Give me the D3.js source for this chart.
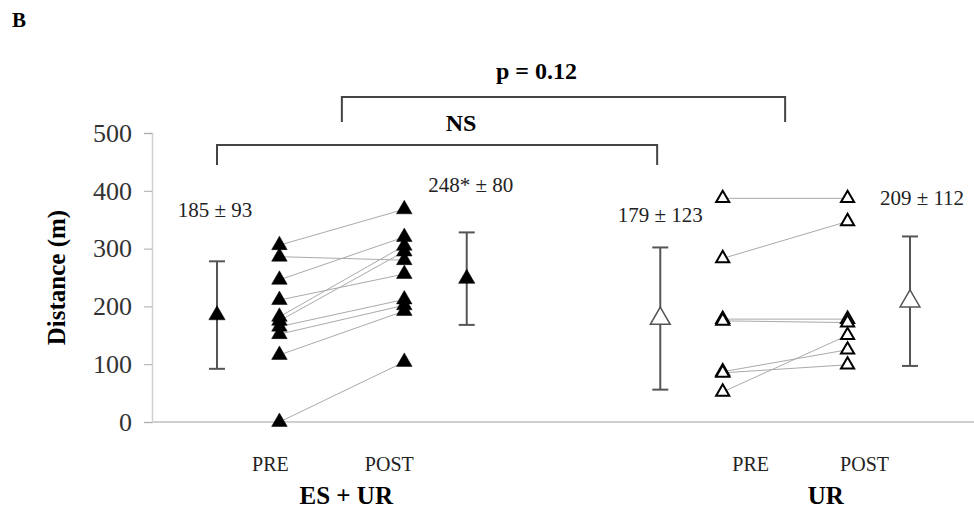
<!DOCTYPE html>
<html>
<head>
<meta charset="utf-8">
<script src="https://cdn.jsdelivr.net/npm/d3@7"></script>
<style>
  body { margin: 0; background: #fff; }
  svg text { font-family: "Liberation Serif", "Times New Roman", serif; }
</style>
</head>
<body>
<div id="chart"></div>
<script>
// individual subjects, distance (m) before and after
var esPre  = [306, 286, 246, 211, 182, 175, 165, 152, 116, 0];
var esPost = [368, 280, 320, 256, 305, 295, 212, 202, 192, 104];
var urPre  = [387, 283, 178, 175, 87, 85, 52];
var urPost = [387, 347, 178, 172, 125, 99, 150];

// group summaries: mean and sd
var summaryLabels = ["185 ± 93", "248* ± 80", "179 ± 123", "209 ± 112"];
var summaryMeans  = [185, 248, 179, 209];
var summarySd     = [93, 80, 123, 112];

var yTicks = [0, 100, 200, 300, 400, 500];
var phaseLabels = ["PRE", "POST", "PRE", "POST"];
var groupLabels = ["ES + UR", "UR"];

var width = 974, height = 510;
var svg = d3.select("#chart").append("svg")
  .attr("width", width)
  .attr("height", height);

// slot positions along the x axis
var x = d3.scaleLinear().domain([0, 11.1]).range([217, 910]);
var y = d3.scaleLinear().domain([0, 500]).range([422, 133]);

var slots = { esMeanPre: 0, esPre: 1, esPost: 3, esMeanPost: 4,
              urMeanPre: 7.1, urPre: 8.1, urPost: 10.1, urMeanPost: 11.1 };

// panel letter
svg.append("text").attr("x", 12).attr("y", 27)
  .attr("font-size", 21).attr("font-weight", "bold").text("B");

// axes
svg.append("line").attr("x1", 152).attr("x2", 974)
  .attr("y1", y(0)).attr("y2", y(0))
  .attr("stroke", "#cfcfcf").attr("stroke-width", 2);

var yAxis = svg.append("g")
  .attr("transform", "translate(152,0)")
  .call(d3.axisLeft(y).tickValues(yTicks).tickSize(8).tickPadding(12));
yAxis.select(".domain").attr("stroke", "#d0d0d0").attr("stroke-width", 1.5);
yAxis.selectAll(".tick line").attr("stroke", "#aaa");
yAxis.selectAll(".tick text")
  .style("font-family", "'Liberation Serif', serif")
  .attr("font-size", 26).attr("fill", "#333");

svg.append("text")
  .attr("transform", "translate(56," + y(250) + ") rotate(-90)")
  .attr("text-anchor", "middle")
  .attr("dy", "0.35em")
  .attr("font-size", 25).attr("font-weight", "bold")
  .text("Distance (m)");

// paired lines
function pairs(pre, post, a, b) {
  svg.append("g").selectAll("line")
    .data(pre).enter().append("line")
      .attr("x1", x(a)).attr("x2", x(b))
      .attr("y1", function(d) { return y(d); })
      .attr("y2", function(d, i) { return y(post[i]); })
      .attr("stroke", "#aaa").attr("stroke-width", 1);
}
pairs(esPre, esPost, slots.esPre, slots.esPost);
pairs(urPre, urPost, slots.urPre, slots.urPost);

var tri = d3.symbol().type(d3.symbolTriangle);

function points(vals, slot, filled) {
  svg.append("g").selectAll("path")
    .data(vals).enter().append("path")
      .attr("d", tri.size(filled ? 105 : 75)())
      .attr("transform", function(d) { return "translate(" + x(slot) + "," + y(d) + ")"; })
      .attr("fill", filled ? "#000" : "#fff")
      .attr("stroke", "#000")
      .attr("stroke-width", filled ? 0.5 : 2);
}
points(esPre, slots.esPre, true);
points(esPost, slots.esPost, true);
points(urPre, slots.urPre, false);
points(urPost, slots.urPost, false);

// mean +/- sd bars
var meanSlots = [slots.esMeanPre, slots.esMeanPost, slots.urMeanPre, slots.urMeanPost];
var meanFilled = [true, true, false, false];
var labelLift = [44, 40, 25, 31];
var labelShift = [-2, 4, 0, 12];

summaryMeans.forEach(function(m, i) {
  var cx = x(meanSlots[i]);
  var g = svg.append("g");
  var lo = y(m - summarySd[i]), hi = y(m + summarySd[i]);
  g.append("line").attr("x1", cx).attr("x2", cx).attr("y1", lo).attr("y2", hi)
    .attr("stroke", "#555").attr("stroke-width", 2);
  [lo, hi].forEach(function(yy) {
    g.append("line").attr("x1", cx - 8).attr("x2", cx + 8).attr("y1", yy).attr("y2", yy)
      .attr("stroke", "#555").attr("stroke-width", 2);
  });
  g.append("path")
    .attr("d", tri.size(meanFilled[i] ? 115 : 170)())
    .attr("transform", "translate(" + cx + "," + y(m) + ")")
    .attr("fill", meanFilled[i] ? "#000" : "#fff")
    .attr("stroke", meanFilled[i] ? "#000" : "#555")
    .attr("stroke-width", meanFilled[i] ? 0.5 : 1.5);
  svg.append("text")
    .attr("x", cx + labelShift[i])
    .attr("y", hi - labelLift[i])
    .attr("text-anchor", "middle")
    .attr("font-size", 21).attr("fill", "#222")
    .text(summaryLabels[i]);
});

// x labels
var phaseSlots = [slots.esPre, slots.esPost, slots.urPre, slots.urPost];
var phaseShift = [-9, -15, 28, 17];
svg.append("g").selectAll("text")
  .data(phaseLabels).enter().append("text")
    .attr("x", function(d, i) { return x(phaseSlots[i]) + phaseShift[i]; })
    .attr("y", 471)
    .attr("text-anchor", "middle")
    .attr("font-size", 20).attr("fill", "#222")
    .text(function(d) { return d; });

var groupSlots = [2.07, 9.75];
svg.append("g").selectAll("text")
  .data(groupLabels).enter().append("text")
    .attr("x", function(d, i) { return x(groupSlots[i]); })
    .attr("y", 504)
    .attr("text-anchor", "middle")
    .attr("font-size", 25).attr("font-weight", "bold")
    .text(function(d) { return d; });

// significance brackets
function bracket(a, b, top, drop, label, ly, shift) {
  var x1 = x(a), x2 = x(b);
  svg.append("path")
    .attr("d", "M" + x1 + "," + (top + drop) + "V" + top + "H" + x2 + "V" + (top + drop))
    .attr("fill", "none").attr("stroke", "#444").attr("stroke-width", 2);
  svg.append("text")
    .attr("x", (x1 + x2) / 2 + shift).attr("y", ly)
    .attr("text-anchor", "middle")
    .attr("font-size", 24).attr("font-weight", "bold")
    .text(label);
}
bracket(slots.esMeanPre, slots.urMeanPre - 0.05, 145, 20, "NS", 131, 24);
bracket(2, 9.1, 97, 25, "p = 0.12", 79, -27);
</script>
</body>
</html>
